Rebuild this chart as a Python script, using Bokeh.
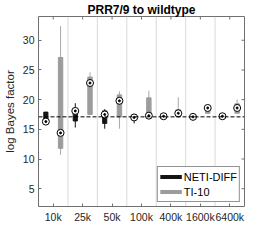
import math
from bokeh.plotting import figure
from bokeh.models import (FixedTicker, Range1d, Span, Legend, LegendItem, ColumnDataSource)
from bokeh.embed import file_html
from bokeh.resources import INLINE

categories = ["10k", "25k", "50k", "100k", "400k", "1600k", "6400k"]

neti_lo  = [16.2, 15.3, 15.1, 16.0, 17.1, 17.0, 17.1]
neti_q1  = [16.5, 16.4, 16.0, 16.9, 17.15, 17.05, 17.15]
neti_med = [16.3, 18.1, 17.5, 17.0, 17.2, 17.1, 17.2]
neti_q3  = [17.9, 18.4, 18.1, 17.1, 17.25, 17.15, 17.25]
neti_hi  = [17.9, 19.4, 18.4, 17.6, 17.3, 17.2, 17.3]

ti_lo  = [10.7, 17.4, 15.1, 17.2, 17.1, 17.7, 17.7]
ti_q1  = [11.8, 17.5, 17.1, 17.2, 17.1, 17.7, 17.7]
ti_med = [14.4, 22.8, 19.8, 17.3, 17.7, 18.6, 18.6]
ti_q3  = [27.1, 23.8, 20.8, 20.3, 18.3, 18.9, 19.3]
ti_hi  = [32.4, 24.6, 21.4, 21.5, 20.4, 18.9, 20.0]

reference_value = 17.1
yticks = [5, 10, 15, 20, 25, 30]

FONT = "Liberation Sans"
AX = "#262626"
TICK = "#707070"

X0, X1, Y0, Y1 = 0.5, 7.5, 2, 34

p = figure(width=254, height=227, output_backend="svg", toolbar_location=None,
           x_range=Range1d(X0, X1), y_range=Range1d(Y0, Y1),
           min_border_left=27, min_border_right=10, min_border_bottom=21, min_border_top=4)

p.title.text = "PRR7/9 to wildtype"
p.title.align = "center"
p.title.text_font = FONT
p.title.text_font_size = "12px"
p.title.text_font_style = "bold"
p.title.text_color = "black"
p.title.standoff = 0
p.title.offset = 0

p.background_fill_color = "white"
p.border_fill_color = "white"
p.outline_line_color = TICK
p.outline_line_width = 1
p.xgrid.visible = False
p.ygrid.visible = False

xpos = [i + 1 for i in range(len(categories))]

p.xaxis.ticker = FixedTicker(ticks=xpos)
p.xaxis.major_label_overrides = {x: c for x, c in zip(xpos, categories)}
p.yaxis.ticker = FixedTicker(ticks=yticks)
p.yaxis.axis_label = "log Bayes factor"
for ax in (p.xaxis[0], p.yaxis[0]):
    ax.axis_line_color = None
    ax.major_tick_in = 3
    ax.major_tick_out = 0
    ax.major_tick_line_color = TICK
    ax.minor_tick_line_color = None
    ax.major_label_text_font = FONT
    ax.major_label_text_font_size = "10.5px"
    ax.major_label_text_color = AX
    ax.major_label_standoff = 4
p.yaxis.axis_label_text_font = FONT
p.yaxis.axis_label_text_font_size = "11.5px"
p.yaxis.axis_label_text_font_style = "normal"
p.yaxis.axis_label_text_color = AX
p.yaxis.axis_label_standoff = 4

# mirrored ticks on top and right edges (clipped half-dashes)
p.scatter(x=[X1] * len(yticks), y=yticks, marker="dash", size=6, line_color=TICK, line_width=1)
p.scatter(x=xpos, y=[Y1] * len(xpos), marker="dash", angle=math.pi / 2, size=6,
          line_color=TICK, line_width=1)

# separators
for i in range(len(categories) - 1):
    p.add_layout(Span(location=xpos[i] + 0.5, dimension="height", line_color="#b4b4b4",
                      line_dash="1 1", line_width=1))

p.add_layout(Span(location=reference_value, dimension="width", line_color="black",
                  line_dash="4 2", line_width=1))

off = 0.25
def draw(vals, shift, color, wcolor, box_w):
    lo, q1, med, q3, hi = vals
    xs = [x + shift for x in xpos]
    src = ColumnDataSource(dict(x=xs, lo=lo, q1=q1, med=med, q3=q3, hi=hi))
    p.segment(x0="x", y0="lo", x1="x", y1="hi", source=src, line_color=wcolor, line_width=1)
    p.vbar(x="x", bottom="q1", top="q3", width=box_w, source=src,
           fill_color=color, line_color=color)
    p.scatter(x="x", y="med", source=src, size=7, marker="circle",
              fill_color="white", line_color="black", line_width=1)
    p.scatter(x="x", y="med", source=src, size=2, marker="circle",
              fill_color="black", line_color="black")

draw((neti_lo, neti_q1, neti_med, neti_q3, neti_hi), -off, "#141414", "#141414", 0.14)
draw((ti_lo, ti_q1, ti_med, ti_q3, ti_hi), off, "#9c9c9c", "#a8a8a8", 0.15)

l1 = p.line(x=[xpos[0]], y=[float("nan")], line_color="#141414", line_width=4)
l2 = p.line(x=[xpos[0]], y=[float("nan")], line_color="#9c9c9c", line_width=4)
legend = Legend(items=[LegendItem(label="NETI-DIFF", renderers=[l1]),
                       LegendItem(label="TI-10", renderers=[l2])],
                location="bottom_right")
legend.label_text_font = FONT
legend.label_text_font_size = "11px"
legend.label_text_color = "black"
legend.glyph_width = 22
legend.glyph_height = 15
legend.label_height = 15
legend.label_standoff = 2
legend.padding = 2
legend.spacing = 0
legend.margin = 4
legend.border_line_color = AX
legend.border_line_width = 1
legend.background_fill_alpha = 1
p.add_layout(legend, "center")

open("out.html", "w").write(file_html(p, INLINE))
